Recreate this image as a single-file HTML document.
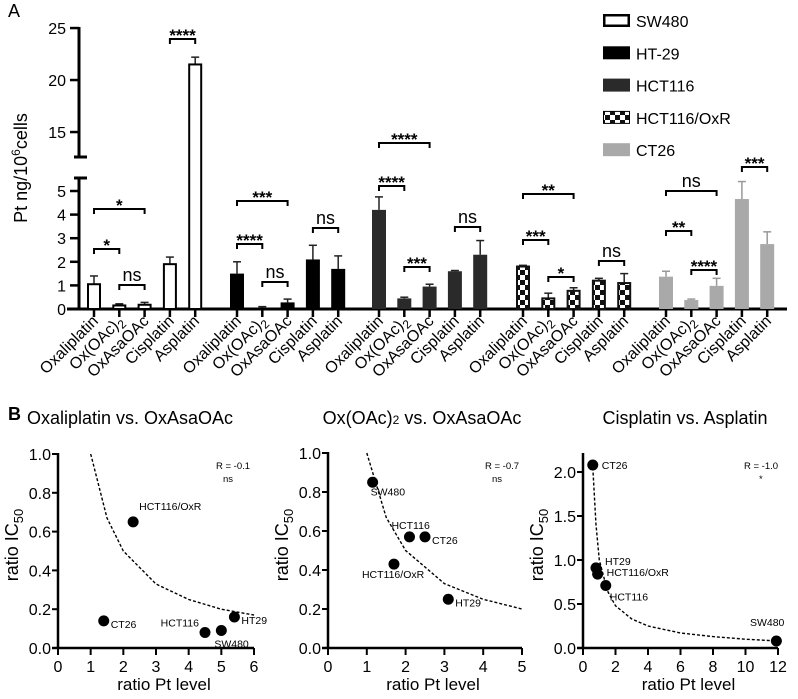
<!DOCTYPE html>
<html><head><meta charset="utf-8"><style>
html,body{margin:0;padding:0;background:#fff;}
svg{display:block;font-family:"Liberation Sans",Arial,sans-serif;}
</style></head><body>
<svg id="fig" width="798" height="699" viewBox="0 0 798 699" xmlns="http://www.w3.org/2000/svg">
<defs>
<pattern id="chk" width="10" height="10" patternUnits="userSpaceOnUse">
<rect width="10" height="10" fill="#fff"/><rect width="5" height="5" fill="#111"/><rect x="5" y="5" width="5" height="5" fill="#111"/>
</pattern>
</defs>
<text x="8" y="17" font-size="18">A</text>
<text x="8" y="420" font-size="18" font-weight="bold">B</text>
<g id="topchart"></g>
<g id="p1"></g>
<g id="p2"></g>
<g id="p3"></g>
</svg>
<script>
// ---------- Top bar chart data ----------
const cellLines = ["SW480","HT-29","HCT116","HCT116/OxR","CT26"];
const drugs = ["Oxaliplatin","Ox(OAc)2","OxAsaOAc","Cisplatin","Asplatin"];
const sw480Vals = [1.05,0.15,0.18,1.9,21.5];
const sw480Err = [1.4,0.22,0.28,2.2,22.2];
const ht29Vals = [1.5,0.05,0.28,2.1,1.7];
const ht29Err = [2.0,0.1,0.42,2.7,2.25];
const hct116Vals = [4.2,0.45,0.95,1.6,2.3];
const hct116Err = [4.75,0.5,1.05,1.63,2.9];
const oxrVals = [1.8,0.45,0.77,1.2,1.1];
const oxrErr = [1.85,0.67,0.9,1.3,1.5];
const ct26Vals = [1.37,0.38,0.98,4.66,2.75];
const ct26Err = [1.6,0.42,1.3,5.4,3.27];
const lowTicks = [0,1,2,3,4,5];
const highTicks = [15,20,25];
const sigGroups = [0,0,0,0, 1,1,1,1, 2,2,2,2, 3,3,3,3, 4,4,4,4];
const sigFrom =   [0,0,1,3, 0,0,1,3, 0,0,1,3, 0,0,1,3, 0,0,1,3];
const sigTo =     [1,2,2,4, 1,2,2,4, 1,2,2,4, 1,2,2,4, 1,2,2,4];
const sigLabels = ["*","*","ns","****", "****","***","ns","ns", "****","****","***","ns", "***","**","*","ns", "**","ns","****","***"];
const sigY =      [249,209,285,39, 244,201,282,228, 186,143,267,227, 240,194,277,261, 231,191,270,167];

const NS="http://www.w3.org/2000/svg";
function el(tag,attrs,parent,text){const e=document.createElementNS(NS,tag);for(const k in attrs)e.setAttribute(k,attrs[k]);if(text!==undefined)e.textContent=text;parent.appendChild(e);return e;}

const topG=document.getElementById('topchart');
function yTop(v){return v<=5.6?309-v*23.6:157-(v-12.6)*10.4;}
function xBar(g,i){return [94,237,379,523,666][g]+i*25.3;}
const groupVals=[sw480Vals,ht29Vals,hct116Vals,oxrVals,ct26Vals];
const groupErr=[sw480Err,ht29Err,hct116Err,oxrErr,ct26Err];
const fills=["#fff","#000","#2a2a2a","url(#chk)","#a9a9a9"];
const strokes=["#000","#000","#2a2a2a","#111","#a9a9a9"];
el('line',{x1:79,y1:309,x2:79,y2:178,stroke:'#000','stroke-width':3},topG);
el('line',{x1:79,y1:157,x2:79,y2:27,stroke:'#000','stroke-width':3},topG);
el('line',{x1:74,y1:178,x2:87,y2:178,stroke:'#000','stroke-width':3},topG);
el('line',{x1:74,y1:157,x2:87,y2:157,stroke:'#000','stroke-width':3},topG);
el('line',{x1:67,y1:309,x2:787,y2:309,stroke:'#000','stroke-width':3},topG);
lowTicks.forEach(t=>{const y=yTop(t);
 el('line',{x1:70,y1:y,x2:79,y2:y,stroke:'#000','stroke-width':2.5},topG);
 const tx=el('text',{x:66,y:y+6,'font-size':16,'text-anchor':'end'},topG,String(t));
 
 });
highTicks.forEach(t=>{const y=yTop(t);
 el('line',{x1:70,y1:y,x2:79,y2:y,stroke:'#000','stroke-width':2.5},topG);
 const tx=el('text',{x:66,y:y+6,'font-size':16,'text-anchor':'end'},topG,String(t));
 
 });
const yt=el('text',{x:0,y:0,'font-size':18,'text-anchor':'middle',transform:'translate(27,168) rotate(-90)'},topG);


yt.innerHTML='Pt ng/10<tspan baseline-shift="super" font-size="12">6</tspan>cells';
groupVals.forEach((vals,g)=>{
 vals.forEach((v,i)=>{
  const x=xBar(g,i),y=yTop(v),ey=yTop(groupErr[g][i]);
  const ec=g===4?'#999':'#222';
  const ln=el('line',{x1:x,y1:y,x2:x,y2:ey,stroke:ec,'stroke-width':1.5},topG);
  
  
  el('line',{x1:x-4,y1:ey,x2:x+4,y2:ey,stroke:ec,'stroke-width':1.5},topG);
  const sw=(g===0||g===3)?2:0;
  const r=el('rect',{x:x-7+sw/2,y:y,width:14-sw,height:309-y,fill:fills[g],stroke:strokes[g],'stroke-width':sw},topG);
  
  
  el('line',{x1:x,y1:309,x2:x,y2:317,stroke:'#000','stroke-width':2.5},topG);
  const lab=el('text',{'font-size':16,'text-anchor':'end',transform:`translate(${x+5},${322}) rotate(-45)`},topG);
  
  
  if(drugs[i]==='Ox(OAc)2'){lab.innerHTML='Ox(OAc)<tspan font-size="12" dy="4">2</tspan>';}
  else lab.textContent=drugs[i];
 });
});
sigLabels.forEach((s,k)=>{
 const g=sigGroups[k],x1=xBar(g,sigFrom[k]),x2=xBar(g,sigTo[k]),y=sigY[k];
 const p=el('path',{d:`M${x1},${y+5}V${y}H${x2}V${y+5}`,fill:'none',stroke:'#000','stroke-width':2},topG);
 
 
 const t=el('text',{x:(x1+x2)/2,y:s==='ns'?y-4:y+2,'font-size':s==='ns'?18:17,'text-anchor':'middle','font-weight':s==='ns'?'normal':'bold'},topG,s);
 
 
});
cellLines.forEach((c,i)=>{
 const y=14+i*32.3;
 const g=el('g',{},topG);
 
 
 const sw=(i===0)?2.5:(i===3?1:0);
 el('rect',{x:603+sw/2,y:y+sw/2,width:27-sw,height:13-sw,fill:fills[i],stroke:'#000','stroke-width':sw},g);
 el('text',{x:636,y:y+13,'font-size':16},g,c);
});

// ---------- Scatter panels ----------
const p1Names=["HCT116/OxR","CT26","HCT116","SW480","HT29"];
const p1X=[2.3,1.4,4.5,5.0,5.4];
const p1Y=[0.65,0.14,0.08,0.09,0.16];
const p1CurveX=[1,1.5,2,3,4,5,6];
const p1CurveY=[1,0.67,0.5,0.33,0.25,0.2,0.17];
const p2Names=["SW480","HCT116","CT26","HCT116/OxR","HT29"];
const p2X=[1.15,2.1,2.5,1.7,3.1];
const p2Y=[0.85,0.57,0.57,0.43,0.25];
const p2CurveX=[1,1.5,2,3,4,5];
const p2CurveY=[1,0.67,0.5,0.33,0.25,0.2];
const p3Names=["CT26","HT29","HCT116/OxR","HCT116","SW480"];
const p3X=[0.6,0.8,0.9,1.4,11.9];
const p3Y=[2.08,0.91,0.84,0.71,0.08];
const p3CurveX=[0.6,0.8,1,1.5,2,3,4,6,8,10,12];
const p3CurveY=[2.05,1.4,1.0,0.65,0.48,0.33,0.25,0.17,0.13,0.1,0.08];

function scatter(gid,cfg){
 const g=document.getElementById(gid);
 const X=v=>cfg.x0+(v-cfg.xmin)/(cfg.xmax-cfg.xmin)*(cfg.x1-cfg.x0);
 const Y=v=>cfg.y0-(v-cfg.ymin)/(cfg.ymax-cfg.ymin)*(cfg.y0-cfg.y1);
 const t=el('text',{x:cfg.tx,y:424,'font-size':18,'text-anchor':'middle'},g);
 
 
 t.innerHTML=cfg.title;
 el('line',{x1:cfg.x0,y1:cfg.y0,x2:cfg.x0,y2:cfg.ytop,stroke:'#000','stroke-width':2.5},g);
 el('line',{x1:cfg.x0-6,y1:cfg.y0,x2:cfg.x1,y2:cfg.y0,stroke:'#000','stroke-width':2.5},g);
 cfg.yt.forEach(v=>{const y=Y(v);
  el('line',{x1:cfg.x0-6,y1:y,x2:cfg.x0,y2:y,stroke:'#000','stroke-width':2},g);
  const tx=el('text',{x:cfg.x0-7,y:y+6,'font-size':16,'text-anchor':'end'},g,v.toFixed(1));
  
  });
 cfg.xt.forEach(v=>{const x=X(v);
  el('line',{x1:x,y1:cfg.y0,x2:x,y2:cfg.y0+7,stroke:'#000','stroke-width':2},g);
  const tx=el('text',{x:x,y:cfg.y0+24,'font-size':16,'text-anchor':'middle'},g,String(v));
  
  });
 const xl=el('text',{x:(cfg.x0+cfg.x1)/2+8,y:690,'font-size':17,'text-anchor':'middle'},g,'ratio Pt level');
 
 
 const yl=el('text',{'font-size':18,'text-anchor':'middle',transform:`translate(${cfg.x0-40},545) rotate(-90)`},g);
 
 
 yl.innerHTML='ratio IC<tspan font-size="13" dy="5">50</tspan>';
 const d=cfg.cx.map((v,i)=>(i?'L':'M')+X(v).toFixed(1)+','+Y(cfg.cy[i]).toFixed(1)).join('');
 const c=el('path',{d:d,fill:'none',stroke:'#000','stroke-width':1.4,'stroke-dasharray':'3,2'},g);
 
 
 cfg.px.forEach((v,i)=>{
  const cx=X(v),cy=Y(cfg.py[i]);
  const pt=el('circle',{cx:cx,cy:cy,r:5.5,fill:'#000'},g);
  
  
  const o=cfg.lo[i];
  const lt=el('text',{x:cx+o[0],y:cy+o[1],'font-size':10.5,'text-anchor':o[2]||'start'},g,cfg.names[i]);
  
  
 });
 const r=el('text',{x:cfg.rx,y:469,'font-size':9.5},g,cfg.r);
 
 
 const s=el('text',{x:cfg.rx+(cfg.sig==='*'?15:7),y:482,'font-size':9.5},g,cfg.sig);
 
 
}
scatter('p1',{title:'Oxaliplatin vs. OxAsaOAc',tx:130,x0:58,x1:254,xmin:0,xmax:6,y0:648,y1:454,ytop:453,ymin:0,ymax:1,
 yt:[0,0.2,0.4,0.6,0.8,1.0],xt:[0,1,2,3,4,5,6],cx:p1CurveX,cy:p1CurveY,px:p1X,py:p1Y,names:p1Names,
 lo:[[6,-12],[7,7],[-6,-6,'end'],[-7,17],[7,7]],rx:216,r:'R =  -0.1',sig:'ns'});
scatter('p2',{title:'Ox(OAc)<tspan font-size="12">2</tspan> vs. OxAsaOAc',tx:422,x0:328,x1:522,xmin:0,xmax:5,y0:648,y1:453,ytop:452,ymin:0,ymax:1,
 yt:[0,0.2,0.4,0.6,0.8,1.0],xt:[0,1,2,3,4,5],cx:p2CurveX,cy:p2CurveY,px:p2X,py:p2Y,names:p2Names,
 lo:[[-2,13],[-18,-8],[7,7],[-32,14],[7,7]],rx:485,r:'R =  -0.7',sig:'ns'});
scatter('p3',{title:'Cisplatin vs. Asplatin',tx:685,x0:583,x1:778,xmin:0,xmax:12,y0:648,y1:472,ytop:453,ymin:0,ymax:2,
 yt:[0,0.5,1.0,1.5,2.0],xt:[0,2,4,6,8,10,12],cx:p3CurveX,cy:p3CurveY,px:p3X,py:p3Y,names:p3Names,
 lo:[[9,4],[9,-3],[9,2],[4,15],[8,-15,'end']],rx:744,r:'R =  -1.0',sig:'*'});
</script>
</body></html>
